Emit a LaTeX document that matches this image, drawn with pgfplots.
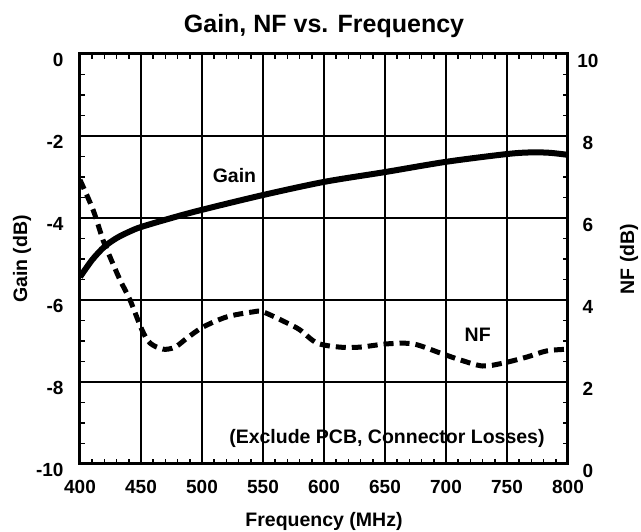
\documentclass[border=0pt]{standalone}
\usepackage{fontspec}
\setmainfont{Liberation Sans}
\usepackage{pgfplots}
\pgfplotsset{compat=1.18}
\begin{document}
\begin{tikzpicture}
\useasboundingbox (-80pt,-68pt) rectangle (561pt,464pt);
% Left axis: gain, grid and minor ticks
\begin{axis}[
  at={(0,0)}, anchor=south west, scale only axis,
  width=488pt, height=410pt,
  xmin=400, xmax=800, ymin=-10, ymax=0,
  xtick={400,450,...,800}, ytick={-10,-8,...,0},
  minor x tick num=4, minor y tick num=3,
  tick align=inside, xtick pos=both, ytick pos=both,
  yticklabel pos=left, xticklabel pos=bottom,
  major tick length=0pt, minor tick length=5pt,
  every tick/.style={black, line width=1.5pt},
  grid=major, major grid style={black, line width=1.8pt},
  axis line style={black, line width=3pt},
  /pgf/number format/assume math mode=true,
  tick label style={font=\fontsize{19}{19}\selectfont\bfseries},
  yticklabel style={anchor=east, xshift=-13pt, yshift=-6pt},
  xticklabel style={anchor=north, yshift=-13pt},
  xlabel={Frequency (MHz)}, ylabel={Gain (dB)},
  label style={font=\fontsize{19.5}{20}\selectfont\bfseries},
  xlabel style={at={(axis description cs:0.5,0)}, anchor=center, yshift=-57pt},
  ylabel style={at={(axis description cs:0,0.5)}, anchor=center, yshift=58pt},
  title={Gain, NF vs. Frequency},
  title style={font=\fontsize{25}{25}\selectfont\bfseries,
    at={(axis description cs:0.5,1)}, anchor=center, yshift=21.5pt},
]
\addplot[black, line width=6pt, smooth] coordinates {
  (400,-5.44) (410,-5.02) (420,-4.70) (430,-4.49) (440,-4.34) (450,-4.22)
  (475,-4.00) (500,-3.80) (550,-3.44) (600,-3.12) (650,-2.88) (700,-2.63)
  (750,-2.44) (770,-2.40) (785,-2.41) (800,-2.46)
};
\node[font=\fontsize{19.5}{20}\selectfont\bfseries] at (axis cs:526.6,-2.97) {Gain};
\node[font=\fontsize{19.5}{20}\selectfont\bfseries] at (axis cs:726,-6.85) {NF};
\node[font=\fontsize{19.5}{20}\selectfont\bfseries] at (axis cs:651.6,-9.37) {(Exclude PCB, Connector Losses)};
\end{axis}
% Right axis: noise figure
\begin{axis}[
  at={(0,0)}, anchor=south west, scale only axis,
  width=488pt, height=410pt,
  xmin=400, xmax=800, ymin=0, ymax=10,
  axis x line=none, axis y line*=right,
  ytick={0,2,...,10},
  major tick length=0pt,
  axis line style={black, line width=3pt},
  /pgf/number format/assume math mode=true,
  tick label style={font=\fontsize{19}{19}\selectfont\bfseries},
  yticklabel style={anchor=center, xshift=20pt, yshift=-7pt},
  ylabel={NF (dB)},
  label style={font=\fontsize{19.5}{20}\selectfont\bfseries},
  ylabel style={at={(axis description cs:1,0.5)}, anchor=center, yshift=-61pt},
]
\addplot[black, line width=5pt, smooth, dash pattern=on 10pt off 6pt] coordinates {
  (400,6.93) (410.7,6.20) (418.9,5.46) (424.6,5.05) (432.8,4.49) (441,4.00)
  (450.8,3.27) (457.4,2.95) (468,2.80) (477.9,2.85) (487.7,3.07) (500.8,3.34)
  (520.5,3.59) (541.8,3.71) (550,3.71) (569.7,3.44) (580.3,3.27) (594.3,2.95)
  (613,2.85) (629.5,2.85) (651.6,2.93) (673,2.93) (695,2.71) (711.5,2.54)
  (730,2.39) (746.7,2.46) (766.4,2.61) (782.8,2.76) (800,2.80)
};
\end{axis}
\end{tikzpicture}
\end{document}
